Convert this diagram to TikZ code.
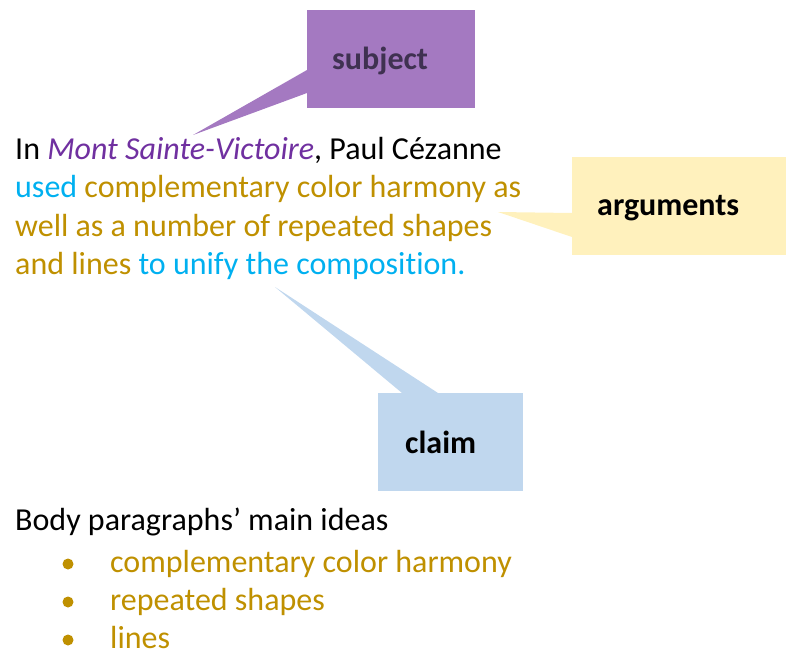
\documentclass[tikz,border=0pt]{standalone}
\usepackage{fontspec}
\setmainfont{Carlito}[Ligatures=NoCommon]
\usetikzlibrary{calc,positioning}
\definecolor{subjpurple}{RGB}{164,121,193}
\definecolor{subjtext}{RGB}{63,49,81}
\definecolor{titlepurple}{RGB}{112,48,160}
\definecolor{arggold}{RGB}{191,144,0}
\definecolor{argyellow}{RGB}{255,241,189}
\definecolor{claimblue}{RGB}{0,176,240}
\definecolor{claimbox}{RGB}{192,215,238}
\begin{document}
\begin{tikzpicture}[x=1pt,y=-1pt,
  box/.style={inner sep=0pt, anchor=north west},
  txt/.style={inner sep=0pt, anchor=base west, font=\fontsize{32}{38}\selectfont},
  tag/.style={inner sep=0pt, anchor=base west, font=\fontsize{32}{38}\selectfont\bfseries},
  bullet/.style={circle, fill=arggold, inner sep=0pt, minimum size=11pt}]
\useasboundingbox (0,0) rectangle (792,658);
% callouts
\node[box, fill=subjpurple, minimum width=168pt, minimum height=98pt] (subj) at (307,10) {};
\node[box, fill=argyellow, minimum width=214pt, minimum height=98pt] (args) at (572,157) {};
\node[box, fill=claimbox, minimum width=145pt, minimum height=98pt] (claim) at (378,393) {};
\coordinate (subjtip) at (193,135);
\coordinate (argstip) at (498,212);
\coordinate (claimtip) at (275,287);
\fill[subjpurple] (subjtip) -- ($(subj.north west)+(0,60)$) -- ($(subj.north west)+(0,83)$) -- cycle;
\fill[argyellow] (argstip) -- ($(args.north west)+(0,56)$) -- ($(args.north west)+(0,80)$) -- cycle;
\fill[claimbox] (claimtip) -- ($(claim.north west)+(24,0)$) -- ($(claim.north west)+(60,0)$) -- cycle;
\node[tag, text=subjtext] (subjlabel) at (332,70) {subject};
\node[tag] (argslabel) at (597,215) {arguments};
\node[tag] (claimlabel) at (405,453) {claim};
% thesis
\node[txt] (line1) at (15,159) {In \textcolor{titlepurple}{\itshape Mont Sainte-Victoire}, Paul Cézanne};
\node[txt] (line2) at (15,197) {\textcolor{claimblue}{used} \textcolor{arggold}{complementary color harmony as}};
\node[txt, text=arggold] (line3) at (15,236) {well as a number of repeated shapes};
\node[txt] (line4) at (15,274) {\textcolor{arggold}{and lines} \textcolor{claimblue}{to unify the composition.}};
% main ideas
\node[txt] (head) at (15,530) {Body paragraphs’ main ideas};
\foreach \t [count=\i] in {complementary color harmony, repeated shapes, lines}
{\node[txt, text=arggold] (item\i) at (110,{572+38*(\i-1)}) {\t};
 \node[bullet] (dot\i) at (68,{564+38*(\i-1)}) {};
}
\end{tikzpicture}
\end{document}
